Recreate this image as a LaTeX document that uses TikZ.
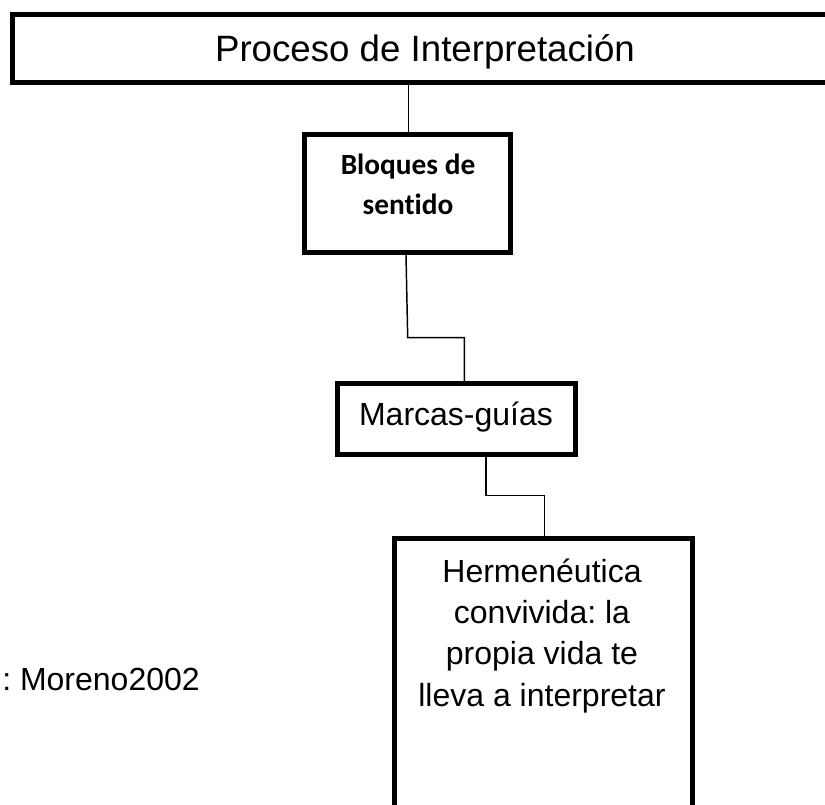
\documentclass[tikz,border=0pt]{standalone}
\usepackage{fontspec}
\setmainfont{Liberation Sans}
\newfontfamily\calibrifont[Ligatures=NoCommon]{Carlito}
\setlength{\tabcolsep}{0pt}
\frenchspacing
\begin{document}
\begin{tikzpicture}[x=0.75pt,y=-0.75pt,
  box/.style={draw=black,line width=3.75pt,fill=white,inner sep=0pt,rectangle},
  conn/.style={draw=black,line width=1.1pt},
  txt/.style={inner sep=0pt,anchor=base}]
\useasboundingbox (0,0) rectangle (825,805);
\clip (0,0) rectangle (825,805);
\fill[white] (0,0) rectangle (825,805);
% boxes
\node[box,minimum width=628pt,minimum height=50.8pt] (top) at (431.35,48.85) {};
\node[box,minimum width=154.7pt,minimum height=88.7pt] (bloques) at (407.35,193.35) {};
\node[box,minimum width=178.5pt,minimum height=52.9pt] (marcas) at (456,419.25) {};
\node[box,minimum width=223.5pt,minimum height=218.6pt] (herm) at (543,684.25) {};
% connector helper coordinates
\coordinate (k1) at (408.5,0);
\coordinate (k2a) at (406,0);
\coordinate (k2b) at (407.7,337.7);
\coordinate (k2c) at (464.3,0);
\coordinate (k3a) at (486,495.7);
\coordinate (k3b) at (544.3,0);
% connectors
\draw[conn] (top.south -| k1) -- (bloques.north -| k1);
\draw[conn] (bloques.south -| k2a) -- (k2b) -| (marcas.north -| k2c);
\draw[conn] (marcas.south -| k3a) -- (k3a) -| (herm.north -| k3b);
% texts
\node[txt,font=\fontsize{27.5}{32}\selectfont] (tTitle) at (425,61.5) {Proceso de Interpretación};
\node[txt,font=\calibrifont\bfseries\fontsize{22}{30}\selectfont] (tBloq) at (408,175) {\begin{tabular}[t]{c}Bloques de\\sentido\end{tabular}};
\node[txt,font=\fontsize{24}{29}\selectfont] (tMarcas) at (456,426) {Marcas-guías};
\node[txt,font=\fontsize{24}{31.1}\selectfont] (tHerm) at (542,582) {\begin{tabular}[t]{c}Hermenéutica\\convivida: la\\propia vida te\\lleva a interpretar\end{tabular}};
\node[txt,anchor=base west,font=\fontsize{24}{29}\selectfont] (tMor) at (2,690) {: Moreno2002};
\end{tikzpicture}
\end{document}
